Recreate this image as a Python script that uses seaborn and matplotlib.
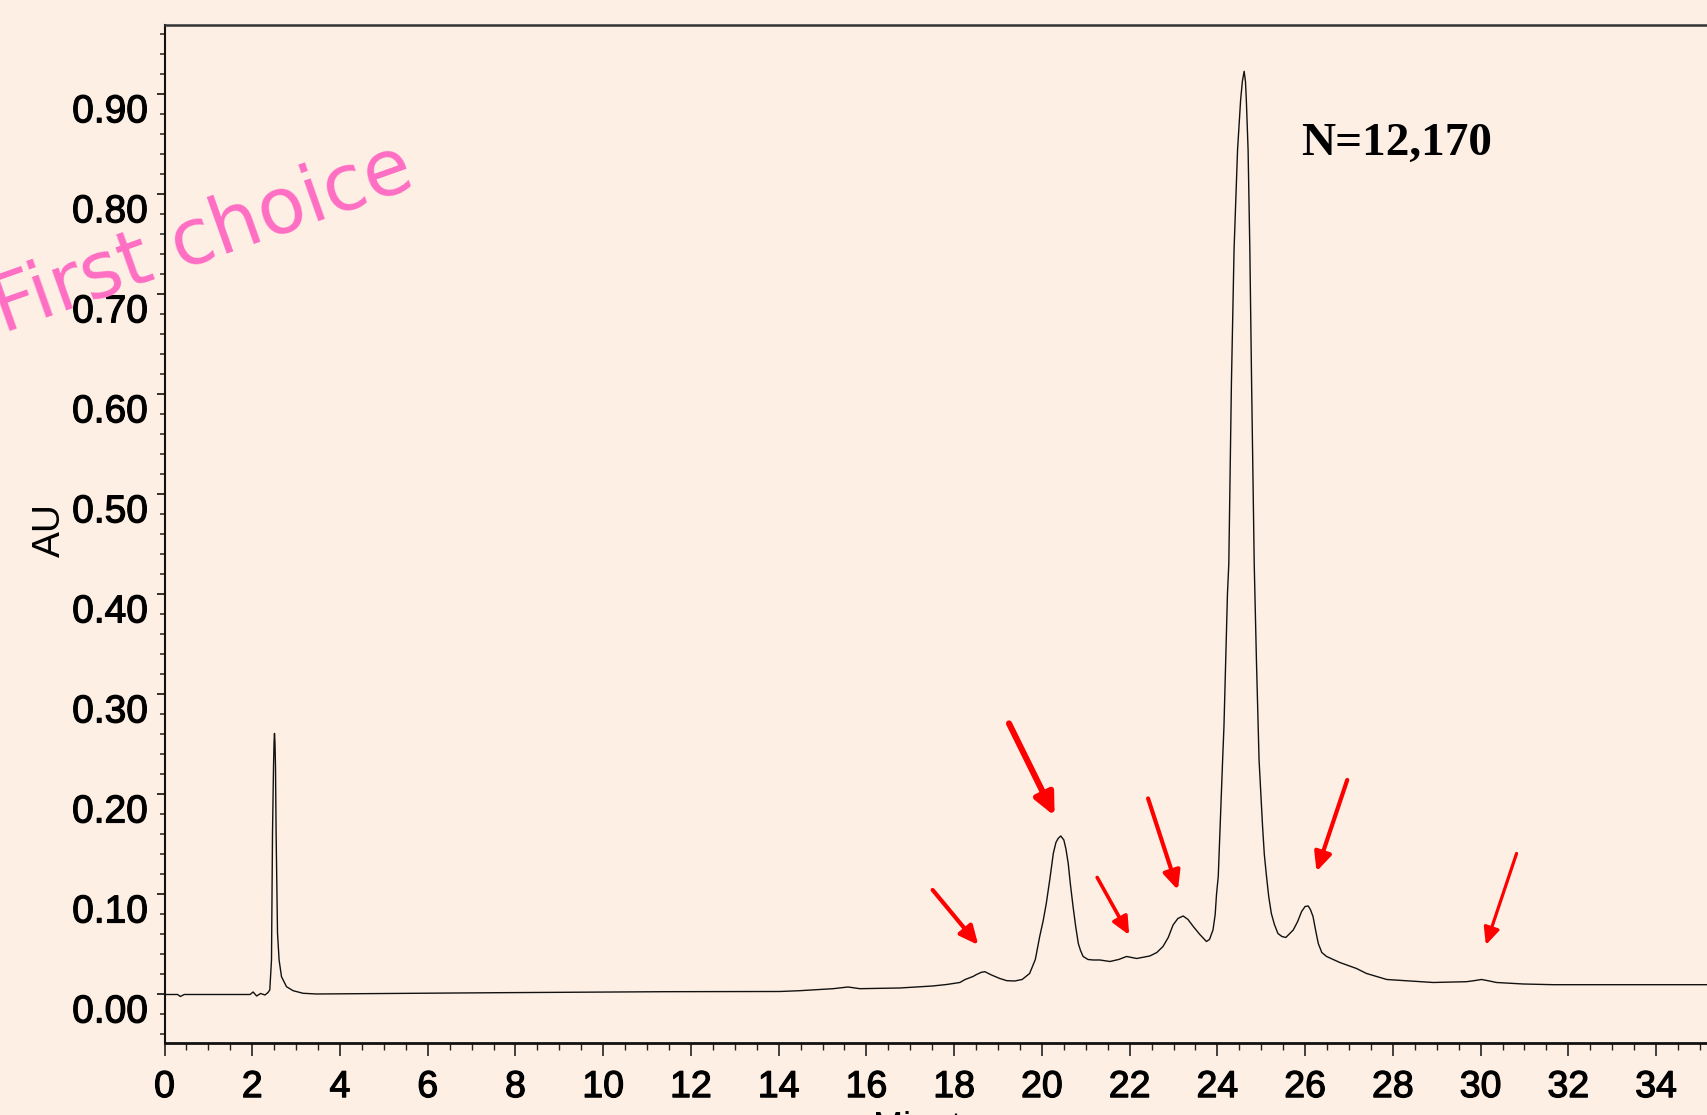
import matplotlib
matplotlib.use("Agg")
import matplotlib.pyplot as plt
import matplotlib.transforms as mtransforms
import matplotlib.patheffects as pe
from matplotlib.ticker import MultipleLocator, FormatStrFormatter
import seaborn as sns
import pandas as pd

# ---- data ----
time_min = [0.00, 0.30, 0.36, 0.45, 1.00, 1.95, 2.02, 2.10, 2.19, 2.29, 2.36,
            2.400, 2.439, 2.462, 2.485, 2.497, 2.507, 2.518, 2.530, 2.544, 2.576, 2.612, 2.667,
            2.781, 2.931, 3.159, 3.465, 5.00, 7.64, 10.07, 11.44, 14.03, 14.48,
            15.24, 15.58, 15.85, 16.76, 17.51, 17.83, 18.13, 18.25, 18.43, 18.51,
            18.62, 18.70, 18.85, 19.04, 19.20, 19.38, 19.55, 19.72, 19.85, 19.95, 20.03,
            20.10, 20.18, 20.26, 20.32, 20.37, 20.43, 20.50, 20.55,
            20.60, 20.65, 20.71, 20.77, 20.83, 20.88, 20.94, 21.05, 21.17, 21.32, 21.55,
            21.75, 21.93, 22.16, 22.46, 22.62,
            22.76, 22.88, 22.99, 23.10, 23.22, 23.33, 23.45, 23.60, 23.75, 23.82, 23.90,
            23.95, 23.98, 24.02, 24.09, 24.12, 24.15, 24.19,
            24.23, 24.26, 24.32, 24.38, 24.46, 24.53, 24.57, 24.61, 24.64, 24.66, 24.70, 24.74,
            24.78, 24.84, 24.89, 24.95, 25.03, 25.07, 25.12, 25.17, 25.23, 25.30, 25.38,
            25.47, 25.56, 25.73, 25.83,
            25.92, 26.00, 26.07, 26.12, 26.18, 26.24, 26.30, 26.38, 26.49, 26.79, 27.17,
            27.40, 27.86, 28.61,
            28.92, 29.68, 29.85, 30.02, 30.20, 30.36, 30.97, 31.65, 35.20]
absorbance = [0.000, 0.000, -0.002, 0.000, 0.000, 0.000, 0.0025, -0.0015, 0.001, -0.0005, 0.002,
              0.0045, 0.0345, 0.1615, 0.228, 0.252, 0.261, 0.252, 0.228, 0.1615, 0.0615, 0.0345, 0.0178,
              0.0078, 0.0038, 0.0012, 0.0005, 0.001, 0.0018, 0.0025, 0.0028, 0.003, 0.0038,
              0.0058, 0.0075, 0.0058, 0.0065, 0.0085, 0.010, 0.012, 0.015, 0.018, 0.020,
              0.0222, 0.0228, 0.0195, 0.016, 0.0138, 0.0135, 0.015, 0.021, 0.035, 0.058, 0.074,
              0.091, 0.115, 0.141, 0.152, 0.156, 0.1585, 0.1545, 0.145,
              0.131, 0.110, 0.088, 0.068, 0.051, 0.044, 0.038, 0.035, 0.0345, 0.0345, 0.033,
              0.035, 0.038, 0.036, 0.0385, 0.042,
              0.048, 0.057, 0.0695, 0.076, 0.0785, 0.075, 0.068, 0.060, 0.053, 0.055, 0.0645,
              0.080, 0.100, 0.118, 0.201, 0.235, 0.268, 0.3345,
              0.401, 0.430, 0.611, 0.7445, 0.8445, 0.8945, 0.913, 0.923, 0.913, 0.8945, 0.8445, 0.7445,
              0.611, 0.430, 0.3345, 0.2345, 0.168, 0.140, 0.118, 0.098, 0.081, 0.070, 0.061,
              0.058, 0.057, 0.0645, 0.073,
              0.083, 0.088, 0.0885, 0.085, 0.078, 0.064, 0.051, 0.042, 0.038, 0.032, 0.026,
              0.021, 0.015, 0.0128,
              0.012, 0.0128, 0.0138, 0.015, 0.0135, 0.012, 0.0105, 0.0098, 0.0098]

# arrows: tail / tip positions in data units and line widths
arrow_tail_x = [17.51, 19.25, 21.26, 22.42, 26.96, 30.82]
arrow_tail_y = [0.1045, 0.271, 0.117, 0.196, 0.2145, 0.141]
arrow_tip_x = [18.55, 20.29, 21.99, 23.10, 26.26, 30.12]
arrow_tip_y = [0.0495, 0.1785, 0.0595, 0.1045, 0.123, 0.0495]
arrow_lw = [3.0, 4.4, 2.6, 3.0, 3.0, 2.3]

annotation_text = "N=12,170"
watermark_text = "First choice"
y_label = "AU"
x_label = "Minutes"

# ---- styling ----
BG = "#fdefe4"
sns.set_theme(style="ticks")
plt.rcParams["font.family"] = ["Liberation Sans", "DejaVu Sans"]

W, H = 1707, 1115
fig = plt.figure(figsize=(W / 100, H / 100), dpi=100, facecolor=BG)
ax = fig.add_axes([164.5 / W, 1 - 1042.7 / H, 1 - 164.5 / W, (1042.7 - 24.5) / H])
ax.set_facecolor(BG)

df = pd.DataFrame({"t": time_min, "au": absorbance})
sns.lineplot(data=df, x="t", y="au", ax=ax, color="#111111", linewidth=1.0,
             estimator=None, sort=False)

ax.set_xlim(0, (W - 164.5) / 43.87)
ax.set_ylim(-0.0482, 0.9698)

ax.xaxis.set_major_locator(MultipleLocator(2))
ax.xaxis.set_minor_locator(MultipleLocator(0.5))
ax.yaxis.set_major_locator(MultipleLocator(0.1))
ax.yaxis.set_minor_locator(MultipleLocator(0.02))
ax.yaxis.set_major_formatter(FormatStrFormatter("%.2f"))
ax.xaxis.set_major_formatter(FormatStrFormatter("%d"))

ax.tick_params(axis="y", which="major", direction="out", length=6, width=1.3,
               color="#222222", pad=6, labelsize=28, labelcolor="black")
ax.tick_params(axis="y", which="minor", direction="out", length=3.5, width=1.1, color="#222222")
ax.tick_params(axis="x", which="major", direction="out", length=9, width=1.2,
               color="#222222", pad=10, labelsize=27, labelcolor="black")
ax.tick_params(axis="x", which="minor", direction="out", length=5, width=1.0, color="#222222")

stroke = [pe.withStroke(linewidth=0.9, foreground="black")]
for lab in ax.get_yticklabels():
    lab.set_path_effects(stroke)
    lab.set_transform(lab.get_transform() +
                      mtransforms.ScaledTranslation(0, -0.14, fig.dpi_scale_trans))
for lab in ax.get_xticklabels():
    lab.set_path_effects(stroke)

for side in ["left", "bottom"]:
    ax.spines[side].set_color("#111111")
    ax.spines[side].set_linewidth(1.5)
ax.spines["bottom"].set_linewidth(2.0)
ax.spines["top"].set_color("#333333")
ax.spines["top"].set_linewidth(1.8)
ax.spines["right"].set_visible(False)

ax.set_ylabel(y_label, fontsize=28, color="black")
ax.yaxis.set_label_coords(-0.0625, (1042.7 - 530) / (1042.7 - 24.5))
ax.set_xlabel(x_label, fontsize=26, labelpad=4, color="black")

# arrows
for tx, ty, hx, hy, lw in zip(arrow_tail_x, arrow_tail_y, arrow_tip_x, arrow_tip_y, arrow_lw):
    ax.annotate("", xy=(hx, hy), xytext=(tx, ty),
                arrowprops=dict(arrowstyle=f"-|>,head_length={0.38 + lw * 0.06},head_width={0.17 + lw * 0.03}",
                                color="#ff0000", lw=lw, shrinkA=0, shrinkB=0,
                                mutation_scale=20))

# annotation
fig.text(1301 / W, 1 - 155 / H, annotation_text, fontsize=34, fontweight="bold",
         family=["Liberation Serif", "DejaVu Serif"], color="black",
         ha="left", va="baseline")

# watermark
fig.text(3 / W, 1 - 333 / H, watermark_text, fontsize=56, color="#ff6ec4",
         family=["DejaVu Sans"], rotation=19.5, rotation_mode="anchor",
         ha="left", va="baseline")

fig.savefig("out.png", dpi=100, facecolor=BG)
